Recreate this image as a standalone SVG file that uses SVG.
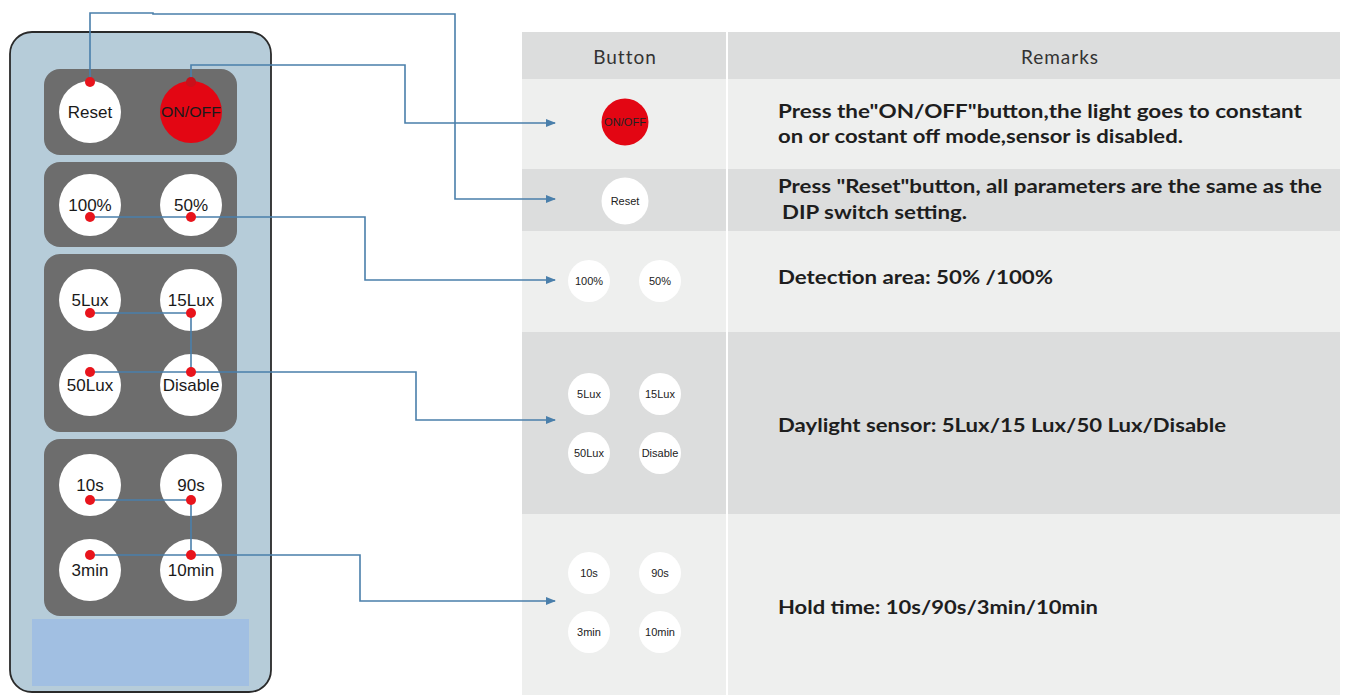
<svg xmlns="http://www.w3.org/2000/svg" width="1346" height="695" viewBox="0 0 1346 695">
<style>
.body{fill:#b6ccd9;stroke:#2a2a2a;stroke-width:1.8}
.grp{fill:#6d6d6d}
.btn{fill:#fff}
.red{fill:#e30613}
.dot{fill:#e8141c}
.bl{font-family:"Liberation Sans",Arial,sans-serif;font-size:17px;fill:#1a1a1a;text-anchor:middle}
.sm{font-family:"Liberation Sans",Arial,sans-serif;font-size:11px;fill:#222;text-anchor:middle}
.hd{font-family:"Lato","Open Sans",sans-serif;font-size:19px;fill:#333;text-anchor:middle;letter-spacing:1px}
.rm{font-family:"Lato","Open Sans",sans-serif;font-size:18.5px;font-weight:bold;fill:#1e1e1e}
.light{fill:#eeefee}
.dark{fill:#dcdddd}
.conn{fill:none;stroke:#4a7fab;stroke-width:1.6}
</style>
<defs>
<marker id="arr" markerWidth="10" markerHeight="8" refX="9" refY="4" orient="auto" markerUnits="userSpaceOnUse">
<path d="M0,0 L10,4 L0,8 Z" fill="#4a7fab"/>
</marker>
</defs>
<rect width="1346" height="695" fill="#fff"/>

<g id="table">
<rect x="522" y="32" width="818" height="47" class="dark"/>
<rect x="522" y="79" width="818" height="90" class="light"/>
<rect x="522" y="169" width="818" height="62" class="dark"/>
<rect x="522" y="231" width="818" height="101" class="light"/>
<rect x="522" y="332" width="818" height="182" class="dark"/>
<rect x="522" y="514" width="818" height="181" class="light"/>
<line x1="727" y1="32" x2="727" y2="695" stroke="#fff" stroke-width="2"/>
<text x="625" y="64" class="hd">Button</text>
<text x="1060" y="64" class="hd">Remarks</text>
</g>

<g id="row-onoff">
<circle cx="625" cy="122" r="23.5" class="red"/>
<text x="625" y="126" class="sm" textLength="42" lengthAdjust="spacingAndGlyphs" style="font-size:10px">ON/OFF</text>
<text x="778" y="118" class="rm" textLength="524" lengthAdjust="spacingAndGlyphs">Press the"ON/OFF"button,the light goes to constant</text>
<text x="778" y="143" class="rm" textLength="405" lengthAdjust="spacingAndGlyphs">on or costant off mode,sensor is disabled.</text>
</g>
<g id="row-reset">
<circle cx="625" cy="201" r="23.5" class="btn"/>
<text x="625" y="205" class="sm">Reset</text>
<text x="778" y="193" class="rm" textLength="544" lengthAdjust="spacingAndGlyphs">Press  "Reset"button, all parameters are the same as the</text>
<text x="782" y="219" class="rm" textLength="185" lengthAdjust="spacingAndGlyphs">DIP switch setting.</text>
</g>
<g id="row-area">
<circle cx="589" cy="281" r="21" class="btn"/>
<circle cx="660" cy="281" r="21" class="btn"/>
<text x="589" y="285" class="sm">100%</text>
<text x="660" y="285" class="sm">50%</text>
<text x="778" y="284" class="rm" textLength="275" lengthAdjust="spacingAndGlyphs">Detection area: 50%  /100%</text>
</g>
<g id="row-lux">
<circle cx="589" cy="394" r="21" class="btn"/>
<circle cx="660" cy="394" r="21" class="btn"/>
<circle cx="589" cy="453" r="21" class="btn"/>
<circle cx="660" cy="453" r="21" class="btn"/>
<text x="589" y="398" class="sm">5Lux</text>
<text x="660" y="398" class="sm">15Lux</text>
<text x="589" y="457" class="sm">50Lux</text>
<text x="660" y="457" class="sm">Disable</text>
<text x="778" y="432" class="rm" textLength="448" lengthAdjust="spacingAndGlyphs">Daylight sensor: 5Lux/15 Lux/50 Lux/Disable</text>
</g>
<g id="row-time">
<circle cx="589" cy="573" r="21" class="btn"/>
<circle cx="660" cy="573" r="21" class="btn"/>
<circle cx="589" cy="632" r="21" class="btn"/>
<circle cx="660" cy="632" r="21" class="btn"/>
<text x="589" y="577" class="sm">10s</text>
<text x="660" y="577" class="sm">90s</text>
<text x="589" y="636" class="sm">3min</text>
<text x="660" y="636" class="sm">10min</text>
<text x="778" y="614" class="rm" textLength="320" lengthAdjust="spacingAndGlyphs">Hold time: 10s/90s/3min/10min</text>
</g>

<g id="remote">
<rect x="10" y="32" width="261" height="660" rx="22" class="body"/>
<rect x="32" y="619" width="217" height="67" fill="#a1bfe2"/>
</g>
<g id="group-power">
<rect x="44" y="69" width="193" height="86" rx="16" class="grp"/>
<circle cx="90" cy="112" r="31" class="btn"/>
<circle cx="191" cy="112" r="31" class="red"/>
<text x="90" y="118" class="bl">Reset</text>
<text x="191" y="117" class="bl" style="font-size:14px" textLength="60" lengthAdjust="spacingAndGlyphs">ON/OFF</text>
</g>
<g id="group-area">
<rect x="44" y="162" width="193" height="85" rx="16" class="grp"/>
<circle cx="90" cy="205" r="31" class="btn"/>
<circle cx="191" cy="205" r="31" class="btn"/>
<text x="90" y="211" class="bl">100%</text>
<text x="191" y="211" class="bl">50%</text>
</g>
<g id="group-lux">
<rect x="44" y="254" width="193" height="178" rx="16" class="grp"/>
<circle cx="90" cy="300" r="31" class="btn"/>
<circle cx="191" cy="300" r="31" class="btn"/>
<circle cx="90" cy="385" r="31" class="btn"/>
<circle cx="191" cy="385" r="31" class="btn"/>
<text x="90" y="306" class="bl">5Lux</text>
<text x="191" y="306" class="bl">15Lux</text>
<text x="90" y="391" class="bl">50Lux</text>
<text x="191" y="391" class="bl">Disable</text>
</g>
<g id="group-time">
<rect x="44" y="439" width="193" height="177" rx="16" class="grp"/>
<circle cx="90" cy="485" r="31" class="btn"/>
<circle cx="191" cy="485" r="31" class="btn"/>
<circle cx="90" cy="570" r="31" class="btn"/>
<circle cx="191" cy="570" r="31" class="btn"/>
<text x="90" y="491" class="bl">10s</text>
<text x="191" y="491" class="bl">90s</text>
<text x="90" y="576" class="bl">3min</text>
<text x="191" y="576" class="bl">10min</text>
</g>

<g id="connectors">
<path class="conn" d="M90,82 V13 H153 V14 H455 V199 H555" marker-end="url(#arr)"/>
<path class="conn" d="M191,82 V65 H405 V123 H555" marker-end="url(#arr)"/>
<path class="conn" d="M90,217 H365 V280 H555" marker-end="url(#arr)"/>
<path class="conn" d="M90,313 H191 V372"/>
<path class="conn" d="M90,372 H416 V420 H555" marker-end="url(#arr)"/>
<path class="conn" d="M90,500 H191 V555"/>
<path class="conn" d="M90,555 H360 V601 H555" marker-end="url(#arr)"/>
</g>

<g id="dots">
<circle cx="90" cy="82" r="5" class="dot"/>
<circle cx="191" cy="82" r="5" fill="#c8101a"/>
<circle cx="90" cy="217" r="5" class="dot"/>
<circle cx="191" cy="217" r="5" class="dot"/>
<circle cx="90" cy="313" r="5" class="dot"/>
<circle cx="191" cy="313" r="5" class="dot"/>
<circle cx="90" cy="372" r="5" class="dot"/>
<circle cx="191" cy="372" r="5" class="dot"/>
<circle cx="90" cy="500" r="5" class="dot"/>
<circle cx="191" cy="500" r="5" class="dot"/>
<circle cx="90" cy="555" r="5" class="dot"/>
<circle cx="191" cy="555" r="5" class="dot"/>
</g>
</svg>
